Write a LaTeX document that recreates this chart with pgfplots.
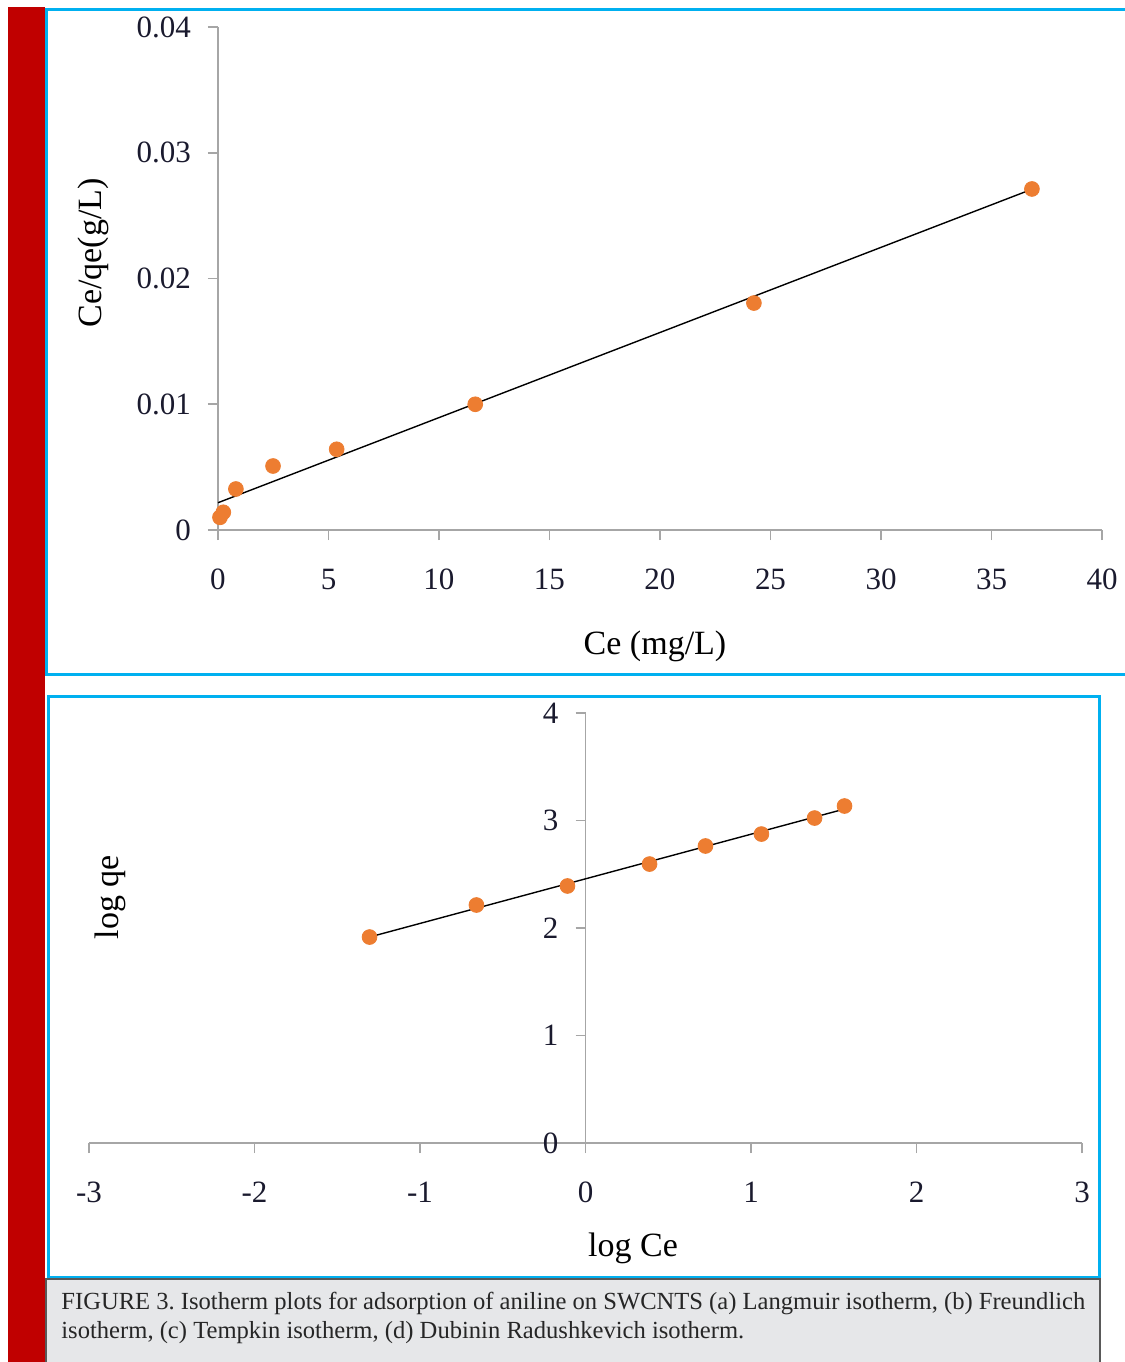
\documentclass[border=0pt]{standalone}
\usepackage{pgfplots}
\pgfplotsset{compat=1.18}
\usepackage{fontspec}
\setmainfont{Liberation Serif}
\definecolor{cyanb}{HTML}{00B0F0}
\definecolor{redb}{HTML}{C00000}
\definecolor{capg}{HTML}{E6E7E9}
\definecolor{orng}{HTML}{ED7D31}
\definecolor{axg}{HTML}{A6A6A6}
\definecolor{tickc}{HTML}{1A1A2E}
\begin{document}
\frenchspacing
\begin{tikzpicture}
\begin{scope}[x=0.5pt,y=-0.5pt]
\path[use as bounding box] (0,0) rectangle (1118,1362);
\fill[white] (0,0) rectangle (1118,1362);
\fill[redb] (8,7) rectangle (44.5,1362);
\draw[cyanb,line width=1.5pt] (1130,9.5) -- (46,9.5) -- (46,674) -- (1130,674);
\draw[cyanb,line width=1.5pt] (48,696) rectangle (1099,1277);
\filldraw[fill=capg,draw=gray!70!black,line width=1pt] (46,1279) rectangle (1100,1390);
\node[anchor=north west,text width=512pt,inner sep=0pt,align=justify,font=\fontsize{12.3}{14.5}\selectfont,text=black!85] at (61,1292)
 {FIGURE 3. Isotherm plots for adsorption of aniline on SWCNTS (a) Langmuir isotherm, (b) Freundlich\linebreak isotherm, (c) Tempkin isotherm, (d) Dubinin Radushkevich isotherm.};
\node[rotate=90,font=\fontsize{17}{20}\selectfont] at (93,253) {Ce/qe(g/L)};
\node[font=\fontsize{17}{20}\selectfont] at (655,646) {Ce (mg/L)};
\node[rotate=90,font=\fontsize{17}{20}\selectfont] at (110,897) {log qe};
\node[font=\fontsize{17}{20}\selectfont] at (633,1248) {log Ce};
\end{scope}

\begin{axis}[
 at={(109pt,-265pt)}, anchor=south west,
 scale only axis, width=442pt, height=251.5pt,
 xmin=0, xmax=40, ymin=0, ymax=0.04,
 axis lines=left, axis line style={-, draw=axg, line width=0.8pt},
 xtick={0,5,10,15,20,25,30,35,40}, ytick={0,0.01,0.02,0.03,0.04},
 scaled y ticks=false,
 tick align=outside, major tick length=5pt,
 tick style={draw=axg, line width=0.8pt},
 ticklabel style={font=\fontsize{15.5}{18}\selectfont, text=tickc},
 /pgf/number format/assume math mode=true,
 yticklabel style={/pgf/number format/fixed, /pgf/number format/precision=2, xshift=-5pt},
 xticklabel style={yshift=-11pt},
 clip=false,
]
\addplot[only marks, mark=*, mark size=3.7pt, mark options={fill=orng, draw=orng}] coordinates {
 (0.09,0.00101) (0.24,0.00141) (0.81,0.00326) (2.49,0.00509) (5.37,0.00642) (11.64,0.0100) (24.25,0.01805) (36.83,0.02712)};
\addplot[black, line width=0.7pt] coordinates {(0,0.00217) (36.83,0.0271)};
\end{axis}

\begin{axis}[
 at={(44.5pt,-571.5pt)}, anchor=south west,
 scale only axis, width=496.5pt, height=215pt,
 xmin=-3, xmax=3, ymin=0, ymax=4,
 axis lines=middle, axis line style={-, draw=axg, line width=0.8pt},
 xtick={-3,-2,-1,0,1,2,3}, ytick={0,1,2,3,4},
 hide obscured x ticks=false, hide obscured y ticks=false,
 tick align=outside, major tick length=5pt,
 tick style={draw=axg, line width=0.8pt},
 ticklabel style={font=\fontsize{15.5}{18}\selectfont, text=tickc},
 /pgf/number format/assume math mode=true,
 yticklabel style={xshift=-5pt},
 xticklabel style={yshift=-11pt},
 clip=false,
]
\addplot[only marks, mark=*, mark size=3.7pt, mark options={fill=orng, draw=orng}] coordinates {
 (-1.305,1.916) (-0.659,2.214) (-0.109,2.391) (0.387,2.595) (0.725,2.763) (1.063,2.874) (1.384,3.023) (1.565,3.135)};
\addplot[black, line width=0.7pt] coordinates {(-1.305,1.916) (1.565,3.107)};
\end{axis}
\end{tikzpicture}
\end{document}
